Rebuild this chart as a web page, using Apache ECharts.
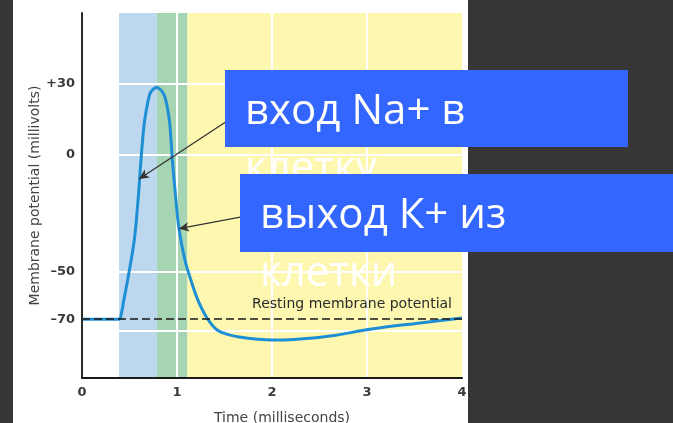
<!DOCTYPE html>
<html>
<head>
<meta charset="utf-8">
<script src="https://cdn.jsdelivr.net/npm/echarts@6/dist/echarts.min.js"></script>
<style>
  html, body { margin: 0; padding: 0; background: #363636; }
  #chart { width: 673px; height: 423px; }
</style>
</head>
<body>
<div id="chart"></div>
<script>
// Action potential: membrane potential (mV) over time (ms)
const timeMs = [0, 0.39, 0.415, 0.44, 0.48, 0.55, 0.59, 0.621, 0.638, 0.66, 0.698, 0.726, 0.786, 0.845, 0.881, 0.919, 0.937, 0.951, 0.989, 1.021, 1.084, 1.147, 1.221, 1.316, 1.42, 1.56, 1.77, 2.08, 2.61, 3.03, 3.56, 4.0];
const potentialMv = [-70, -70, -67.5, -62, -53.5, -36.5, -19.5, -2.4, 6.1, 14.6, 23.1, 26.6, 28.4, 26.6, 23.1, 14.6, 6.1, -2.4, -19.5, -31.6, -45, -53.5, -62, -69.5, -74.5, -76.8, -78.2, -78.9, -77.2, -74.3, -71.6, -69.5];

// Phases: depolarisation, repolarisation, after-hyperpolarisation
const phaseStart = [0.39, 0.79, 1.11];
const phaseEnd = [0.79, 1.11, 4];

const gridTimes = [1, 2, 3];
const gridPotentials = [30, 0, -50, -75];

const xTickValues = [0, 1, 2, 3, 4];
const yTickValues = [-70, -50, 0, 30];
const yTickLabels = ['–70', '–50', '0', '+30'];

const restingPotential = -70;
const restingLabel = 'Resting membrane potential';

// Annotation arrows: [tail, tip] in (ms, mV)
const naArrow = [[1.52, 13.9], [0.60, -10.5]];
const kArrow = [[1.68, -26.6], [1.02, -31.6]];

const naText = ['вход Na+ в', 'клетку'];
const kText = ['выход К+ из', 'клетки'];

const phaseColors = ['#bdd7ee', '#a5d5b2', '#fdf7b0'];

const chart = echarts.init(document.getElementById('chart'));

const tickFont = { fontFamily: 'DejaVu Sans', fontSize: 13, fontWeight: 'bold', color: '#3a3a3a' };

chart.setOption({
  animation: false,
  backgroundColor: '#363636',
  grid: { left: 82, right: 211, top: 13, bottom: 45, containLabel: false, outerBoundsMode: 'none' },
  xAxis: {
    type: 'value', min: 0, max: 4, interval: 1, z: 6,
    name: 'Time (milliseconds)', nameLocation: 'middle', nameGap: 33, nameMoveOverlap: false,
    nameTextStyle: { fontFamily: 'DejaVu Sans', fontSize: 14, color: '#444444', padding: [0, 0, 0, 20] },
    axisLine: { show: true, onZero: false, lineStyle: { color: '#1a1a1a', width: 2 } },
    axisTick: { show: false },
    splitLine: { show: false },
    axisLabel: Object.assign({ margin: 8, customValues: xTickValues }, tickFont)
  },
  yAxis: {
    type: 'value', min: -95, max: 60, z: 6,
    name: 'Membrane potential (millivolts)', nameLocation: 'middle', nameGap: 40, nameMoveOverlap: false,
    nameTextStyle: { fontFamily: 'DejaVu Sans', fontSize: 14, color: '#444444' },
    axisLine: { show: true, lineStyle: { color: '#2a2a2a', width: 2 } },
    axisTick: { show: false, customValues: yTickValues },
    splitLine: { show: false },
    axisLabel: Object.assign({
      margin: 7, customValues: yTickValues,
      formatter: v => yTickLabels[yTickValues.indexOf(v)]
    }, tickFont)
  },
  series: [
    {
      name: 'phases', type: 'line', data: [], silent: true,
      markArea: {
        z: 1, silent: true,
        data: phaseStart.map((s, i) => [
          { xAxis: s, itemStyle: { color: phaseColors[i] } },
          { xAxis: phaseEnd[i] }
        ])
      },
      markLine: {
        z: 2, silent: true, symbol: ['none', 'none'],
        label: { show: false },
        lineStyle: { color: '#ffffff', width: 2, type: 'solid' },
        data: gridTimes.map(t => ({ xAxis: t })).concat(gridPotentials.map(v => ({ yAxis: v })))
      }
    },
    {
      name: 'potential', type: 'line', z: 3,
      data: timeMs.map((t, i) => [t, potentialMv[i]]),
      showSymbol: false, smooth: 0.35,
      lineStyle: { color: '#1e8fd5', width: 3 }
    },
    {
      name: 'resting', type: 'line', data: [], silent: true,
      markLine: {
        z: 4, silent: true, symbol: ['none', 'none'],
        lineStyle: { color: '#1a1a1a', width: 1.6, type: [8, 4] },
        label: {
          show: true, position: 'insideEndTop', formatter: restingLabel,
          fontFamily: 'DejaVu Sans', fontSize: 14, color: '#2a2a2a', distance: [10, 8]
        },
        data: [{ yAxis: restingPotential }]
      }
    },
    {
      name: 'arrows', type: 'line', data: [], silent: true,
      markLine: {
        z: 5, silent: true, symbol: ['none', 'arrow'], symbolSize: [7, 10],
        label: { show: false },
        lineStyle: { color: '#333333', width: 1.3, type: 'solid' },
        data: [naArrow, kArrow].map(a => [{ coord: a[0] }, { coord: a[1] }])
      }
    }
  ],
  graphic: [
    { type: 'rect', z: -100, shape: { x: 13, y: 0, width: 455, height: 423 }, style: { fill: '#ffffff' } },
    { type: 'rect', z: 100, shape: { x: 225, y: 70, width: 403, height: 77 }, style: { fill: '#3366ff' } },
    { type: 'text', z: 101, x: 245, y: 112, style: { text: naText[0], fill: '#ffffff', fontFamily: 'Open Sans', fontSize: 42, verticalAlign: 'middle' } },
    { type: 'text', z: 101, x: 245, y: 169, style: { text: naText[1], fill: '#ffffff', fontFamily: 'Open Sans', fontSize: 42, verticalAlign: 'middle' } },
    { type: 'rect', z: 102, shape: { x: 240, y: 174, width: 433, height: 78 }, style: { fill: '#3366ff' } },
    { type: 'text', z: 103, x: 260, y: 216, style: { text: kText[0], fill: '#ffffff', fontFamily: 'Open Sans', fontSize: 42, verticalAlign: 'middle' } },
    { type: 'text', z: 103, x: 260, y: 274, style: { text: kText[1], fill: '#ffffff', fontFamily: 'Open Sans', fontSize: 42, verticalAlign: 'middle' } }
  ]
});
</script>
</body>
</html>
